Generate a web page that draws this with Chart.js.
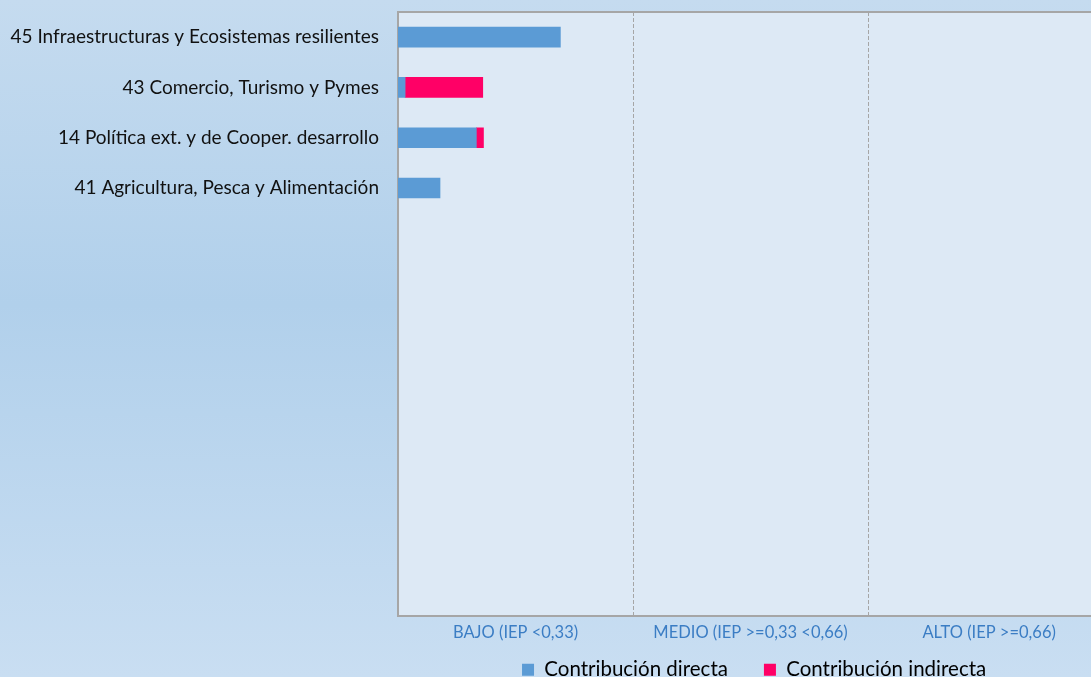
<!DOCTYPE html>
<html>
<head>
<meta charset="utf-8">
<script src="https://cdn.jsdelivr.net/npm/chart.js@4/dist/chart.umd.min.js"></script>
<style>
  html, body { margin: 0; padding: 0; overflow: hidden; background: #c5dbef; }
  #wrap { position: relative; width: 1091px; height: 716px; }
</style>
</head>
<body>
<div id="wrap"><canvas id="grafico"></canvas></div>
<script>
// ejes / categorias
const categorias = [
    '45 Infraestructuras y Ecosistemas resilientes',
    '43 Comercio, Turismo y Pymes',
    '14 Política ext. y de Cooper. desarrollo',
    '41 Agricultura, Pesca y Alimentación',
    '', '', '', '', '', '', '', ''
];
const contribDirecta   = [0.228, 0.010, 0.110, 0.059, null, null, null, null, null, null, null, null];
const contribIndirecta = [null,  0.109, 0.010, null,  null, null, null, null, null, null, null, null];

// tramos del IEP
const limitesIEP = [0.33, 0.66];
const posEtiquetas = [0.165, 0.495, 0.83];
const etiquetasIEP = ['BAJO (IEP <0,33)', 'MEDIO (IEP >=0,33 <0,66)', 'ALTO (IEP >=0,66)'];

const fondo = {
    id: 'fondo',
    afterLayout(chart) {
        // la leyenda va centrada sobre el area completa de 0 a 1 y algo mas arriba
        const x = chart.scales.x;
        const lg = chart.legend;
        lg.left = x.getPixelForValue(0);
        lg.right = x.getPixelForValue(1);
        lg.top -= 26;
        lg.bottom -= 26;
    },
    beforeDraw(chart) {
        const ctx = chart.ctx;
        const a = chart.chartArea;
        ctx.save();
        const g = ctx.createLinearGradient(0, 0, 0, 677);
        g.addColorStop(0, '#c5dbef');
        g.addColorStop(0.45, '#b1d0eb');
        g.addColorStop(1, '#c9def2');
        ctx.fillStyle = g;
        ctx.fillRect(0, 0, chart.width, chart.height);
        ctx.fillStyle = '#dde9f5';
        ctx.fillRect(a.left, a.top, a.right - a.left, a.bottom - a.top);
        ctx.restore();
    },
    beforeDatasetsDraw(chart) {
        const ctx = chart.ctx;
        const a = chart.chartArea;
        const x = chart.scales.x;
        ctx.save();
        // lineas de separacion de tramos
        ctx.strokeStyle = '#a6a6a6';
        ctx.lineWidth = 1;
        ctx.setLineDash([4, 2]);
        limitesIEP.forEach(v => {
            const px = Math.round(x.getPixelForValue(v)) + 0.5;
            ctx.beginPath();
            ctx.moveTo(px, a.top);
            ctx.lineTo(px, a.bottom);
            ctx.stroke();
        });
        // borde superior
        ctx.setLineDash([]);
        ctx.lineWidth = 2;
        ctx.beginPath();
        ctx.moveTo(a.left, a.top);
        ctx.lineTo(a.right, a.top);
        ctx.stroke();
        ctx.restore();
    }
};

new Chart(document.getElementById('grafico'), {
    type: 'bar',
    data: {
        labels: categorias,
        datasets: [{
            label: 'Contribución directa',
            data: contribDirecta,
            backgroundColor: '#5b9bd5',
            barThickness: 20
        }, {
            label: 'Contribución indirecta',
            data: contribIndirecta,
            backgroundColor: '#ff0066',
            barThickness: 20
        }]
    },
    options: {
        indexAxis: 'y',
        responsive: true,
        maintainAspectRatio: false,
        animation: false,
        layout: { padding: { top: 12, left: 0, right: 0, bottom: 0 } },
        scales: {
            x: {
                stacked: true,
                min: 0,
                max: 0.973,
                grid: { display: false, drawTicks: false },
                border: { display: true, color: '#a6a6a6', width: 2 },
                afterBuildTicks(scale) {
                    scale.ticks = posEtiquetas.map(v => ({ value: v }));
                },
                afterFit(scale) { scale.height = 34; },
                ticks: {
                    autoSkip: false,
                    maxRotation: 0,
                    padding: 7,
                    color: '#3b7dc4',
                    font: { family: 'Lato', size: 16.5 },
                    callback: (v, i) => etiquetasIEP[i]
                }
            },
            y: {
                stacked: true,
                grid: { display: false, drawTicks: false },
                border: { display: true, color: '#a6a6a6', width: 2 },
                afterFit(scale) {
                    scale.width = 398;
                    scale.paddingTop = 0;
                    scale.paddingBottom = 0;
                },
                ticks: {
                    autoSkip: false,
                    padding: 19,
                    color: '#111111',
                    font: { family: 'Lato', size: 19 }
                }
            }
        },
        plugins: {
            legend: {
                position: 'bottom',
                labels: {
                    boxWidth: 12,
                    boxHeight: 12,
                    padding: 36,
                    color: '#000000',
                    font: { family: 'Lato', size: 20.5 }
                }
            },
            tooltip: { enabled: false }
        }
    },
    plugins: [fondo]
});
</script>
</body>
</html>
